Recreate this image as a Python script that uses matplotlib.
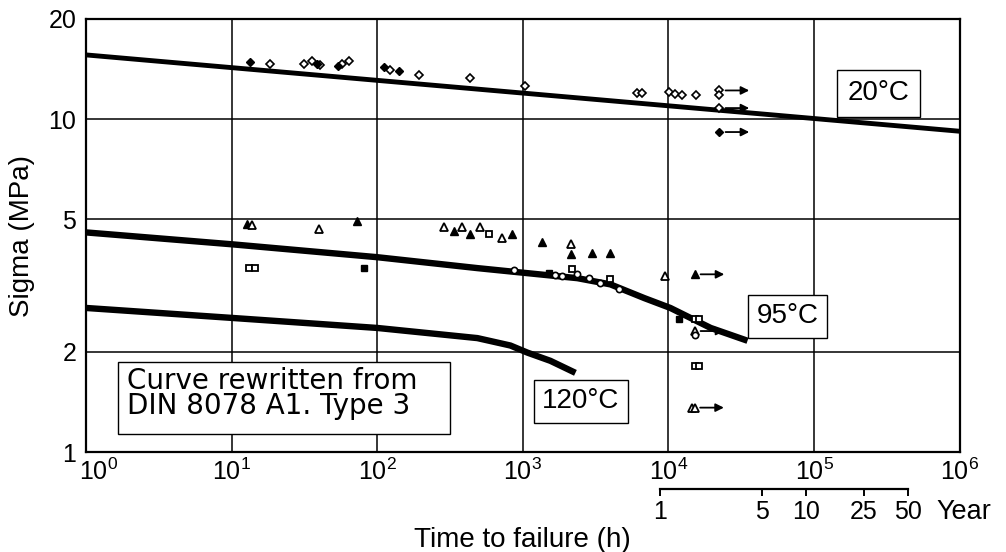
import matplotlib.pyplot as plt
from matplotlib.patches import Rectangle
from matplotlib.transforms import blended_transform_factory, ScaledTranslation

plt.rcParams["font.family"] = ["Liberation Sans", "DejaVu Sans"]

# --- curves (time in h, sigma in MPa) ---
c20_t = [1, 1e6]
c20_s = [15.6, 9.2]

c95_t = [1, 10, 100, 487, 1057, 2370, 3990, 6840, 10300, 19500, 34900]
c95_s = [4.57, 4.21, 3.85, 3.57, 3.45, 3.33, 3.19, 2.90, 2.71, 2.36, 2.16]

c120_t = [1, 10, 100, 487, 821, 1074, 1545, 2296]
c120_s = [2.71, 2.53, 2.36, 2.20, 2.09, 1.99, 1.88, 1.73]

# --- measured points ---
d20_open_t = [18.4, 31.5, 35.7, 40.6, 57, 64, 123, 194, 436, 1040, 6120, 6630,
              10160, 11170, 12480, 15560, 22400, 22400, 22400]
d20_open_s = [14.7, 14.7, 15.0, 14.5, 14.6, 15.0, 14.1, 13.6, 13.3, 12.6, 12.0, 12.0,
              12.1, 11.9, 11.8, 11.8, 12.2, 11.8, 10.8]
d20_fill_t = [13.4, 38.7, 54, 112, 142, 22400]
d20_fill_s = [14.9, 14.6, 14.4, 14.3, 14.0, 9.15]

tri_fill_t = [12.8, 72.9, 338, 436, 848, 1362, 2155, 3006, 3990, 15100]
tri_fill_s = [4.86, 4.96, 4.63, 4.51, 4.51, 4.29, 3.93, 3.95, 3.95, 3.42]
tri_open_t = [13.8, 39.9, 289, 384, 510, 723, 2155, 9390, 15100, 14600, 15300]
tri_open_s = [4.80, 4.69, 4.76, 4.76, 4.76, 4.41, 4.21, 3.38, 2.31, 1.36, 1.36]

sq_open_t = [13.2, 14.5, 589, 2188, 3990, 15100, 16300, 15300, 16300]
sq_open_s = [3.57, 3.57, 4.51, 3.54, 3.31, 2.51, 2.51, 1.82, 1.82]
sq_fill_t = [81.4, 1521, 11900]
sq_fill_s = [3.57, 3.45, 2.51]

circ_t = [875, 1672, 1868, 2370, 2864, 3410, 4600, 15100]
circ_s = [3.52, 3.40, 3.38, 3.42, 3.33, 3.22, 3.09, 2.24]

# runouts (still running -> arrow)
run_t = [22400, 22400, 22400, 15100, 15100, 15000]
run_s = [12.2, 10.8, 9.15, 3.42, 2.31, 1.36]

# year scale
years = [1, 5, 10, 25, 50]
year_hours = [y * 8766 for y in years]

fig = plt.figure(figsize=(10.06, 5.52), dpi=100)
ax = fig.add_axes([0.0855, 0.181, 0.8685, 0.7846])
ax.set_xscale("log")
ax.set_yscale("log")
ax.set_xlim(1, 1e6)
ax.set_ylim(1, 20)

ax.set_xticks([1, 10, 100, 1e3, 1e4, 1e5, 1e6])
ax.set_xticklabels([r"$\mathregular{10^{%d}}$" % k for k in range(7)])
ax.set_yticks([1, 2, 5, 10, 20])
ax.set_yticklabels(["1", "2", "5", "10", "20"])
ax.minorticks_off()
ax.tick_params(length=0, labelsize=18)
ax.tick_params(axis="x", pad=5)
ax.tick_params(axis="y", pad=7)
# first x label sits a bit right of the corner
lab0 = ax.get_xticklabels()[0]
lab0.set_transform(lab0.get_transform() + ScaledTranslation(0.13, 0, fig.dpi_scale_trans))
ax.grid(True, color="black", lw=1.1)
for sp in ax.spines.values():
    sp.set_linewidth(1.6)

ax.plot(c20_t, c20_s, color="black", lw=3.5, solid_capstyle="butt", zorder=3)
ax.plot(c95_t, c95_s, color="black", lw=4.6, solid_capstyle="butt", zorder=3)
ax.plot(c120_t, c120_s, color="black", lw=4.6, solid_capstyle="butt", zorder=3)

mk = dict(ls="none", color="black", mec="black", zorder=4)
ax.plot(d20_open_t, d20_open_s, "D", ms=4.5, mfc="white", mew=1.2, **mk)
ax.plot(d20_fill_t, d20_fill_s, "D", ms=4.5, **mk)
ax.plot(tri_fill_t, tri_fill_s, "^", ms=6, **mk)
ax.plot(tri_open_t, tri_open_s, "^", ms=6, mfc="white", mew=1.3, **mk)
ax.plot(sq_open_t, sq_open_s, "s", ms=5, mfc="white", mew=1.3, **mk)
ax.plot(sq_fill_t, sq_fill_s, "s", ms=4.5, **mk)
ax.plot(circ_t, circ_s, "o", ms=4.5, mfc="white", mew=1.2, **mk)

for t, s in zip(run_t, run_s):
    ax.annotate("", xy=(t * 1.6, s), xytext=(t * 1.1, s),
                arrowprops=dict(arrowstyle="-|>", color="black", lw=1.3,
                                mutation_scale=12, shrinkA=0, shrinkB=0),
                zorder=4)

box = dict(boxstyle="square,pad=0.3", fc="white", ec="black", lw=1.0)
ax.text(2.75e5, 11.95, "20°C", fontsize=20, ha="center", va="center",
        bbox=dict(boxstyle="square,pad=0.38", fc="white", ec="black", lw=1.0), zorder=5)
ax.text(6.6e4, 2.56, "95°C", fontsize=20, ha="center", va="center", bbox=box, zorder=5)
ax.text(2.5e3, 1.42, "120°C", fontsize=20, ha="center", va="center", bbox=box, zorder=5)

# note box
ax.add_patch(Rectangle((1.66, 1.13), 317 - 1.66, 1.87 - 1.13, fc="white",
                       ec="black", lw=1.0, zorder=5))
ax.text(1.91, 1.50, "Curve rewritten from\nDIN 8078 A1. Type 3", fontsize=20,
        family="DejaVu Sans", ha="left", va="center", linespacing=0.87, zorder=6)

ax.set_ylabel("Sigma (MPa)", fontsize=20, va="center")
ax.yaxis.set_label_coords(-0.073, 0.5)
ax.set_xlabel("Time to failure (h)", fontsize=20)
ax.xaxis.set_label_coords(0.5, -0.203)
ax.xaxis.label.set_va("center")

# secondary year scale under the x axis
sec = ax.secondary_xaxis(-0.0855)
sec.set_xticks(year_hours)
sec.set_xticklabels([str(y) for y in years])
sec.minorticks_off()
sec.tick_params(direction="out", length=5, width=1.4, labelsize=18, pad=3)
sec.spines["bottom"].set_bounds(year_hours[0], year_hours[-1])
sec.spines["bottom"].set_linewidth(1.6)
trans = blended_transform_factory(ax.transData, ax.transAxes)
ax.annotate("Year", xy=(year_hours[-1], -0.138), xycoords=trans,
            xytext=(21, 0), textcoords="offset points",
            fontsize=19.5, ha="left", va="center")

fig.savefig("out.png", dpi=100)
